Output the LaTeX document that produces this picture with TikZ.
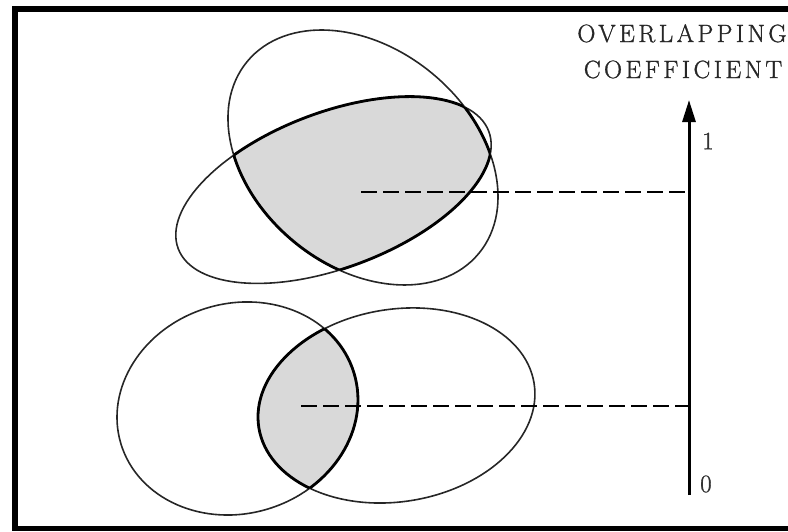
\documentclass[tikz,border=0pt]{standalone}
\usepackage{fontspec}
\newfontfamily\spacedcaps[LetterSpace=14,FakeBold=1.2]{Latin Modern Roman}
\newfontfamily\digitfont[FakeBold=1.2]{Latin Modern Roman}
\usetikzlibrary{arrows.meta}
\begin{document}
\begin{tikzpicture}[x=1pt,y=-1pt,
  thinellipse/.style={line width=1.6pt, draw=black!85},
  boldedge/.style={line width=2.8pt},
  shadefill/.style={fill=gray!30},
  guide/.style={line width=2.8pt, dash pattern=on 16pt off 6pt},
  axisline/.style={line width=3pt, -{Triangle[length=22pt,width=13pt]}},
  lbl/.style={font=\spacedcaps\fontsize{25}{28}\selectfont, inner sep=0pt, text=black!85},
  num/.style={font=\digitfont\fontsize{25}{27}\selectfont, inner sep=0pt, text=black!80}]
\useasboundingbox (0,0) rectangle (788,531);
% frame
\draw[line width=5.5pt] (788,9) -- (15,9) -- (15,528.5) -- (788,528.5);
% centres
\coordinate (cA) at (363,157.5);
\coordinate (cB) at (333.5,190);
\coordinate (cC) at (237.5,408.5);
\coordinate (cD) at (396.5,405.5);
% top pair: shading
\begin{scope}
  \clip[rotate around={-39.7:(cA)}] (cA) ellipse [x radius=150.4pt, y radius=108.9pt];
  \fill[shadefill, rotate around={20.7:(cB)}] (cB) ellipse [x radius=166pt, y radius=77.7pt];
\end{scope}
% bottom pair: shading
\begin{scope}
  \clip[rotate around={16.9:(cC)}] (cC) ellipse [x radius=121.8pt, y radius=105pt];
  \fill[shadefill, rotate around={9.2:(cD)}] (cD) ellipse [x radius=139.4pt, y radius=96.2pt];
\end{scope}
% thin outlines
\draw[thinellipse, rotate around={-39.7:(cA)}] (cA) ellipse [x radius=150.4pt, y radius=108.9pt];
\draw[thinellipse, rotate around={20.7:(cB)}] (cB) ellipse [x radius=166pt, y radius=77.7pt];
\draw[thinellipse, rotate around={16.9:(cC)}] (cC) ellipse [x radius=121.8pt, y radius=105pt];
\draw[thinellipse, rotate around={9.2:(cD)}] (cD) ellipse [x radius=139.4pt, y radius=96.2pt];
% bold outlines of the overlaps
\begin{scope}
  \clip[rotate around={20.7:(cB)}] (cB) ellipse [x radius=166pt, y radius=77.7pt];
  \draw[boldedge, rotate around={-39.7:(cA)}] (cA) ellipse [x radius=150.4pt, y radius=108.9pt];
\end{scope}
\begin{scope}
  \clip[rotate around={-39.7:(cA)}] (cA) ellipse [x radius=150.4pt, y radius=108.9pt];
  \draw[boldedge, rotate around={20.7:(cB)}] (cB) ellipse [x radius=166pt, y radius=77.7pt];
\end{scope}
\begin{scope}
  \clip[rotate around={9.2:(cD)}] (cD) ellipse [x radius=139.4pt, y radius=96.2pt];
  \draw[boldedge, rotate around={16.9:(cC)}] (cC) ellipse [x radius=121.8pt, y radius=105pt];
\end{scope}
\begin{scope}
  \clip[rotate around={16.9:(cC)}] (cC) ellipse [x radius=121.8pt, y radius=105pt];
  \draw[boldedge, rotate around={9.2:(cD)}] (cD) ellipse [x radius=139.4pt, y radius=96.2pt];
\end{scope}
% axis and guides
\coordinate (ax0) at (689,495);
\coordinate (ax1) at (689,100);
\coordinate (tA) at (361,192);
\coordinate (tB) at (301,406);
\draw[guide] (tA) -- (tA -| ax0);
\draw[guide] (tB) -- (tB -| ax0);
\draw[axisline] (ax0) -- (ax1);
% labels
\node[num, anchor=west] (one) at (702,141) {1};
\node[num, anchor=west] (zero) at (700,484) {0};
\node[lbl, anchor=base] (t1) at (682,42) {OVERLAPPING};
\node[lbl, anchor=base] (t2) at (683,78) {COEFFICIENT};
\end{tikzpicture}
\end{document}
